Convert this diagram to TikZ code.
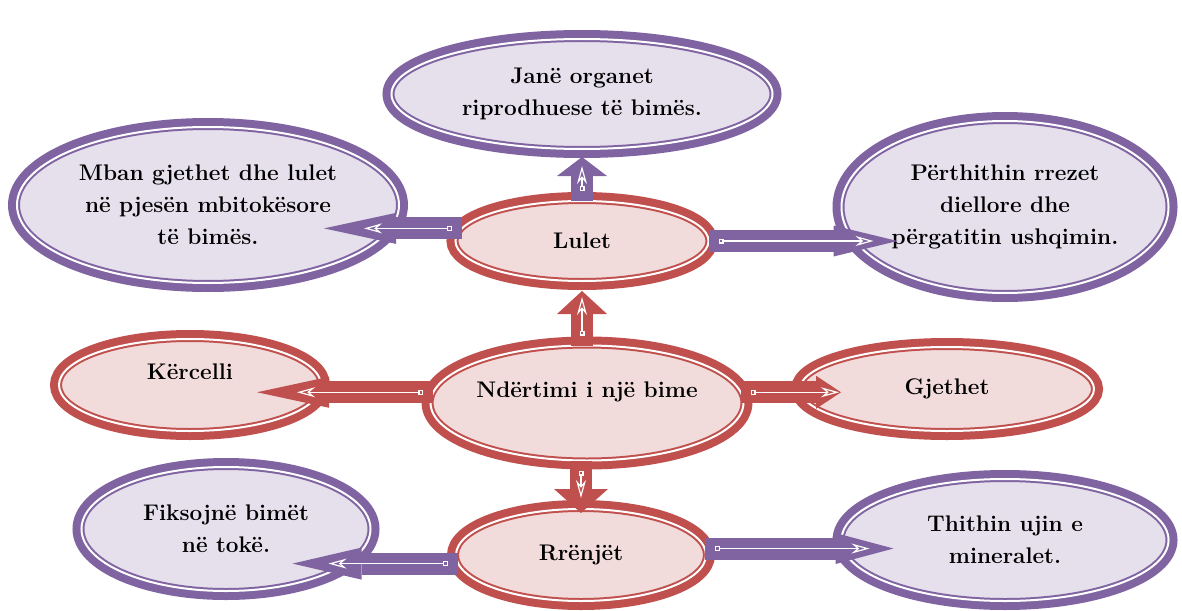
\documentclass[tikz,border=0pt]{standalone}
\usepackage{tikz}
\usetikzlibrary{shapes.geometric, arrows.meta}
\definecolor{redline}{HTML}{C0504D}
\definecolor{redfill}{HTML}{F2DCDB}
\definecolor{purpleline}{HTML}{8064A2}
\definecolor{purplefill}{HTML}{E5E0EC}
\tikzstyle{redball} = [ellipse, draw=redline, fill=redfill, line width=1pt, double=white, double distance=1pt, preaction={draw=redline, line width=4.5pt, double=redline, double distance=0pt}, inner sep=0pt, outer sep=0pt, align=center, font=\fontsize{11.3}{16}\selectfont\bfseries]
\tikzstyle{purpleball} = [ellipse, draw=purpleline, fill=purplefill, line width=1pt, double=white, double distance=1pt, preaction={draw=purpleline, line width=4.5pt, double=purpleline, double distance=0pt}, inner sep=0pt, outer sep=0pt, align=center, font=\fontsize{11.3}{16}\selectfont\bfseries]
\tikzstyle{redarrow} = [draw=redline, line width=11pt]
\tikzstyle{purplearrow} = [draw=purpleline, line width=11pt]
\tikzstyle{innerline} = [draw=white, line width=0.6pt, {Square[open,length=2.5pt,width=2.5pt]}-{Stealth[open,length=9pt,width=5pt]}, shorten <=5pt]

\begin{document}
\begin{tikzpicture}[x=0.5pt, y=-0.5pt]
    \useasboundingbox (0,0) rectangle (1182,610);

    \node (ndertimi) [redball, minimum width=151.5pt, minimum height=57.5pt, text depth=13pt] at (587,403) {Ndërtimi i një bime};
    \node (lulet) [redball, minimum width=126.5pt, minimum height=40pt] at (582,241) {Lulet};
    \node (kercelli) [redball, minimum width=131pt, minimum height=46pt, text depth=13pt] at (190,385) {Kërcelli};
    \node (gjethet) [redball, minimum width=147pt, minimum height=42pt] at (947,389) {Gjethet};
    \node (rrenjet) [redball, minimum width=125pt, minimum height=46pt] at (581,555) {Rrënjët};

    \node (jane) [purpleball, minimum width=190.5pt, minimum height=55pt] at (582,94) {Janë organet\\riprodhuese të bimës.};
    \node (mban) [purpleball, minimum width=191pt, minimum height=78pt] at (208,205) {Mban gjethet dhe lulet\\në pjesën mbitokësore\\të bimës.};
    \node (perthithin) [purpleball, minimum width=163.5pt, minimum height=86pt] at (1005,207) {Përthithin rrezet\\diellore dhe\\përgatitin ushqimin.};
    \node (fiksojne) [purpleball, minimum width=144.5pt, minimum height=62pt] at (226,529) {Fiksojnë bimët\\në tokë.};
    \node (thithin) [purpleball, minimum width=163.5pt, minimum height=61pt] at (1005,540) {Thithin ujin e\\mineralet.};

    % nga ndertimi
    \draw [redarrow, -{Triangle[length=11.5pt,width=25pt,line width=0pt]}, shorten >=5pt] (lulet |- ndertimi.north) -- (lulet.south);
    \draw [innerline, shorten >=8pt] (lulet |- ndertimi.north) -- (lulet.south);
    \draw [redarrow, -{Triangle[length=12pt,width=27pt,line width=0pt]}, shorten >=-2pt] (rrenjet |- ndertimi.south) -- (rrenjet.north);
    \draw [innerline, shorten >=5.5pt] (rrenjet |- ndertimi.south) -- (rrenjet.north);
    \draw [redarrow, -{Triangle[length=36pt,width=15.5pt,line width=0pt]}, shorten >=-32pt] (ndertimi.176) -- (ndertimi.176 -| kercelli.east);
    \draw [innerline, shorten >=-12pt] (ndertimi.176) -- (ndertimi.176 -| kercelli.east);
    \draw [redarrow, -{Triangle[length=12.5pt,width=16.5pt,line width=0pt]}, shorten >=-20.5pt] (ndertimi.4) -- (ndertimi.4 -| gjethet.west);
    \draw [innerline, shorten >=-19.5pt] (ndertimi.4) -- (ndertimi.4 -| gjethet.west);

    % nga lulet
    \draw [purplearrow, -{Triangle[length=9.5pt,width=25pt,line width=0pt]}, shorten >=4pt] (lulet.north) -- (lulet.north |- jane.south);
    \draw [innerline, shorten >=8.5pt] (lulet.north) -- (lulet.north |- jane.south);
    \draw [purplearrow, -{Triangle[length=36pt,width=15.5pt,line width=0pt]}, shorten >=-37.5pt] (lulet.174) -- (lulet.174 -| mban.east);
    \draw [innerline, shorten >=-17.5pt] (lulet.174) -- (lulet.174 -| mban.east);
    \draw [purplearrow, -{Triangle[length=32pt,width=15.5pt,line width=0pt]}, shorten >=-28pt] (lulet.east) -- (lulet.east -| perthithin.west);
    \draw [innerline, shorten >=-16pt] (lulet.east) -- (lulet.east -| perthithin.west);

    % nga rrenjet
    \draw [purplearrow, -{Triangle[length=34.5pt,width=16pt,line width=0pt]}, shorten >=-39pt] (rrenjet.184) -- (rrenjet.184 -| fiksojne.east);
    \draw [innerline, shorten >=-21pt] (rrenjet.184) -- (rrenjet.184 -| fiksojne.east);
    \draw [purplearrow, -{Triangle[length=29pt,width=15.5pt,line width=0pt]}, shorten >=-26pt] (rrenjet.3) -- (rrenjet.3 -| thithin.west);
    \draw [innerline, shorten >=-14pt] (rrenjet.3) -- (rrenjet.3 -| thithin.west);
\end{tikzpicture}
\end{document}
